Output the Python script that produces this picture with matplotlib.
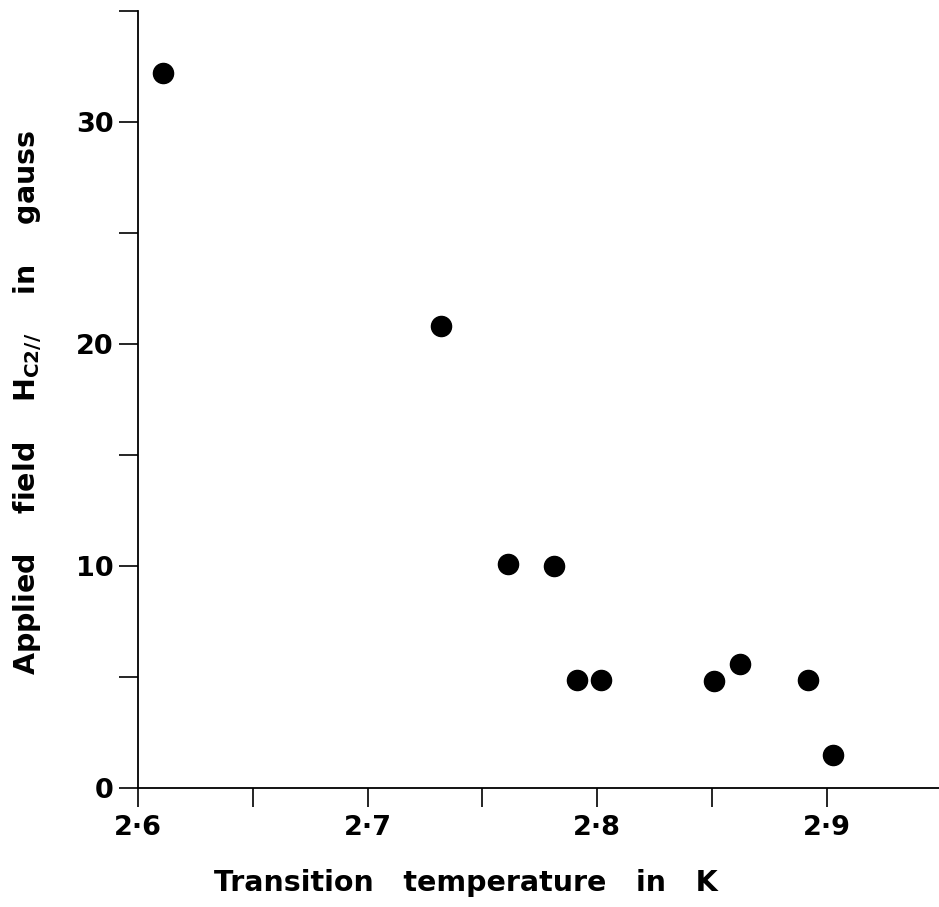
import matplotlib
matplotlib.use('Agg')
import matplotlib.pyplot as plt

# transition temperature (K) and applied field (gauss)
temp = [2.611, 2.732, 2.761, 2.781, 2.791, 2.8015, 2.851, 2.862, 2.892, 2.9025]
field = [32.2, 20.8, 10.1, 10.0, 4.85, 4.88, 4.83, 5.6, 4.85, 1.47]

x_ticks = [2.6, 2.65, 2.7, 2.75, 2.8, 2.85, 2.9]
x_labels = ['2·6', '', '2·7', '', '2·8', '', '2·9']
y_ticks = [0, 5, 10, 15, 20, 25, 30, 35]
y_labels = ['0', '', '10', '', '20', '', '30', '']

plt.rcParams['font.family'] = 'DejaVu Sans'
plt.rcParams['font.weight'] = 'bold'
plt.rcParams['mathtext.default'] = 'bf'

fig = plt.figure(figsize=(9.39, 9.07), dpi=100)
ax = fig.add_axes([0.147, 0.1312, 0.8558, 0.857])

ax.plot(temp, field, 'o', color='black', markersize=14.5, clip_on=False)

ax.set_xlim(2.6, 2.95)
ax.set_ylim(0, 35)
ax.set_xticks(x_ticks)
ax.set_xticklabels(x_labels)
ax.set_yticks(y_ticks)
ax.set_yticklabels(y_labels)

for side in ['top', 'right']:
    ax.spines[side].set_visible(False)
for side in ['left', 'bottom']:
    ax.spines[side].set_linewidth(1.3)

ax.tick_params(direction='out', length=13.5, width=1.2, labelsize=19.5)
ax.tick_params(axis='x', pad=6)
ax.tick_params(axis='y', pad=4)

fig.text(466 / 939, 1 - 883 / 907, 'Transition   temperature   in   K',
         ha='center', va='center', fontsize=20.5, fontweight='bold')
fig.text(28 / 939, 1 - 402 / 907, r'Applied    field    H$_{C2//}$    in    gauss',
         ha='center', va='center', rotation=90, fontsize=20.5, fontweight='bold')

plt.savefig('out.png', dpi=100)
